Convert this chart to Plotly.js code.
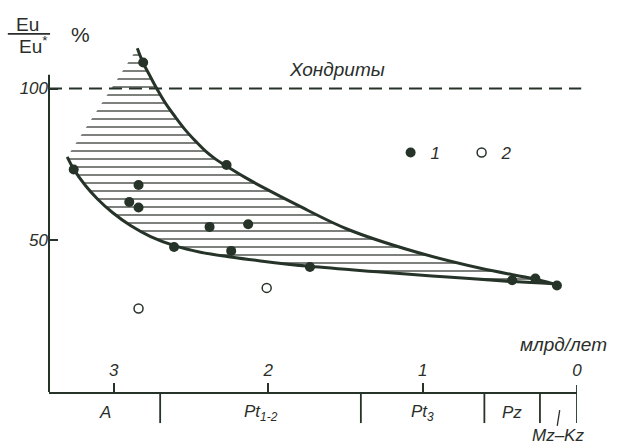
<!DOCTYPE html>
<html>
<head>
<meta charset="utf-8">
<script src="https://cdn.plot.ly/plotly-3.0.1.min.js"></script>
<style>html,body{margin:0;padding:0;background:#fff;}#chart{width:617px;height:446px;}</style>
</head>
<body>
<div id="chart"></div>
<script>
// ---- data (age in billion years, Eu/Eu* in %) ----
var filledAge = [2.81, 3.26, 2.84, 2.90, 2.84, 2.27, 2.38, 2.13, 2.61, 2.24, 1.73, 0.42, 0.27, 0.13];
var filledEu  = [108.6, 73.3, 68.2, 62.6, 60.8, 74.8, 54.4, 55.3, 47.8, 46.5, 41.2, 36.8, 37.4, 35.1];
var openAge = [2.84, 2.01];
var openEu  = [27.5, 34.3];

var upperAge = [2.848, 2.812, 2.769, 2.724, 2.666, 2.601, 2.536, 2.471, 2.406, 2.341, 2.270, 2.153, 2.030, 1.810, 1.486, 1.059, 0.625, 0.282, 0.152];
var upperEu  = [113.27, 108.65, 104.46, 100.17, 95.21, 90.59, 86.30, 82.67, 79.37, 76.73, 74.42, 70.79, 67.33, 61.55, 53.63, 46.37, 40.76, 37.29, 35.64];
var lowerAge = [3.302, 3.259, 3.183, 3.106, 3.009, 2.892, 2.762, 2.607, 2.439, 2.245, 2.050, 1.733, 1.273, 0.839, 0.411, 0.152];
var lowerEu  = [77.49, 73.37, 67.95, 63.60, 59.14, 54.85, 51.22, 48.22, 46.07, 44.49, 43.20, 41.42, 39.54, 37.89, 36.37, 35.64];

var chondriteLevel = 100;
var chondriteLabel = 'Хондриты';

var tickAges = [3, 2, 1, 0];
var tickText = ['3', '2', '1', '0'];
var yTickVals = [50, 100];
var yTickText = ['50', '100'];
var yAxisTop = 104.5;

var eraNames  = ['A', 'Pt<sub>1-2</sub>', 'Pt<sub>3</sub>', 'Pz', 'Mz–Kz'];
var eraStart  = [3.42, 2.7, 1.4, 0.6, 0.24];
var eraEnd    = [2.7, 1.4, 0.6, 0.24, 0];
var eraBounds = [2.7, 1.4, 0.6, 0.24, 0];

// ---- styling ----
var ink = '#263328';
var txt = '#2a2e2a';
var FONT = 'Liberation Sans, DejaVu Sans, sans-serif';

// hatched band polygon built from the two envelope curves
var polyAge = upperAge.concat(lowerAge.slice(0, -1).reverse());
var polyEu  = upperEu.concat(lowerEu.slice(0, -1).reverse());

var traces = [
  {x: polyAge, y: polyEu, type: 'scatter', mode: 'lines', fill: 'toself',
   line: {width: 0, color: 'rgba(0,0,0,0)'}, fillcolor: 'rgba(255,255,255,0)',
   fillpattern: {shape: '-', size: 8, solidity: 0.17, fgcolor: '#3f443f', bgcolor: 'rgba(255,255,255,0)'},
   showlegend: false, hoverinfo: 'skip'},
  {x: upperAge, y: upperEu, type: 'scatter', mode: 'lines',
   line: {color: ink, width: 3, shape: 'spline', smoothing: 1}, showlegend: false},
  {x: lowerAge, y: lowerEu, type: 'scatter', mode: 'lines',
   line: {color: ink, width: 3, shape: 'spline', smoothing: 1}, showlegend: false},
  {x: filledAge, y: filledEu, type: 'scatter', mode: 'markers', name: '1',
   marker: {color: ink, size: 10, line: {width: 0}}, cliponaxis: false},
  {x: openAge, y: openEu, type: 'scatter', mode: 'markers', name: '2',
   marker: {color: '#fff', size: 9, symbol: 'circle', line: {width: 1.5, color: ink}}, cliponaxis: false}
];

var shapes = [
  // y axis line (stops below the top of the band)
  {type: 'line', xref: 'paper', yref: 'y', x0: 0, x1: 0, y0: 0, y1: yAxisTop,
   line: {color: ink, width: 2}},
  {type: 'line', xref: 'paper', yref: 'y', x0: 0, x1: 1.008, y0: chondriteLevel, y1: chondriteLevel,
   line: {color: ink, width: 2, dash: '13px,7px'}},
  // fraction bar of Eu/Eu*
  {type: 'line', xref: 'paper', yref: 'paper', x0: -0.078, x1: 0.002, y0: 1.026, y1: 1.026,
   line: {color: txt, width: 1.8}}
];
eraBounds.forEach(function (b) {
  shapes.push({type: 'line', xref: 'x', yref: 'paper', x0: b, x1: b,
    y0: b === 0 ? 0.02 : 0, y1: -0.089, line: {color: ink, width: 1.8}});
});
// small separator mark inside the Mz–Kz label
var mzMid = (eraStart[4] + eraEnd[4]) / 2;
shapes.push({type: 'line', xref: 'x', yref: 'paper', x0: mzMid - 0.008, x1: mzMid + 0.008,
  y0: -0.052, y1: -0.097, line: {color: txt, width: 1.3}});

function ann(o) { o.showarrow = false; o.xanchor = 'center'; o.yanchor = 'middle'; return o; }
var annotations = [
  ann({xref: 'paper', yref: 'paper', x: 0.545, y: 0.923, text: chondriteLabel,
   font: {family: FONT, size: 19, style: 'italic', color: txt}}),
  ann({xref: 'paper', yref: 'paper', x: -0.040, y: 1.053, text: 'Eu',
   font: {family: FONT, size: 19, color: txt}}),
  ann({xref: 'paper', yref: 'paper', x: -0.030, y: 0.993, text: 'Eu<sup>*</sup>',
   font: {family: FONT, size: 19, color: txt}}),
  ann({xref: 'paper', yref: 'paper', x: 0.059, y: 1.024, text: '%',
   font: {family: FONT, size: 21, color: txt}}),
  ann({xref: 'paper', yref: 'paper', x: 0.975, y: 0.135, text: 'млрд/лет',
   font: {family: FONT, size: 19, style: 'italic', color: txt}})
];
eraNames.forEach(function (n, i) {
  var last = i === eraNames.length - 1;
  annotations.push(ann({xref: 'x', yref: 'paper', x: (eraStart[i] + eraEnd[i]) / 2,
    y: last ? -0.126 : -0.060, text: n,
    font: {family: FONT, size: 17, style: 'italic', color: txt}}));
});

var layout = {
  width: 617, height: 446,
  margin: {l: 49, r: 40, t: 43, b: 54},
  paper_bgcolor: '#fff', plot_bgcolor: '#fff',
  showlegend: true,
  legend: {orientation: 'h', x: 0.647, y: 0.685, xanchor: 'left', yanchor: 'middle',
    font: {family: FONT, size: 17, style: 'italic', color: txt}, bgcolor: 'rgba(0,0,0,0)',
    itemwidth: 30, entrywidth: 26, tracegroupgap: 0},
  xaxis: {range: [3.42, 0], autorange: false, showgrid: false, zeroline: false,
    showline: true, linecolor: ink, linewidth: 2,
    ticks: 'inside', ticklen: 9, tickwidth: 2, tickcolor: ink,
    tickvals: tickAges, ticktext: tickText, ticklabelposition: 'inside', ticklabeloverflow: 'allow',
    ticklabelstandoff: 4,
    tickfont: {family: FONT, size: 17, style: 'italic', color: txt}},
  yaxis: {range: [0, 115], autorange: false, showgrid: false, zeroline: false,
    showline: false,
    ticks: 'inside', ticklen: 9, tickwidth: 2, tickcolor: ink,
    tickvals: yTickVals, ticktext: yTickText,
    tickfont: {family: FONT, size: 17, style: 'italic', color: txt}},
  shapes: shapes,
  annotations: annotations
};

Plotly.newPlot('chart', traces, layout, {displayModeBar: false, staticPlot: true});
</script>
</body>
</html>
